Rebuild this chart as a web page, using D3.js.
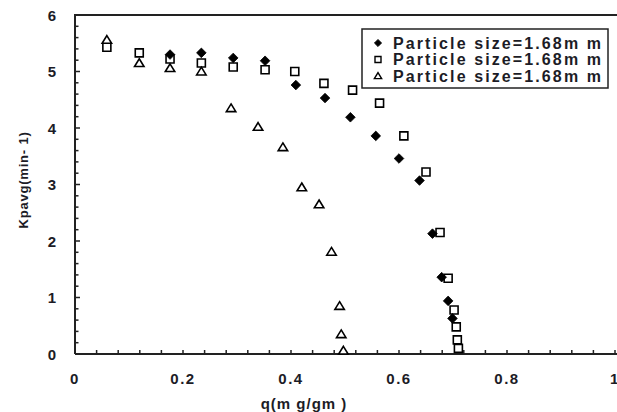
<!DOCTYPE html>
<html><head><meta charset="utf-8">
<script src="https://cdn.jsdelivr.net/npm/d3@7"></script>
<style>
html,body{margin:0;padding:0;background:#fff;overflow:hidden;}
svg{display:block;font-family:"Liberation Sans",Arial,sans-serif;}
</style></head>
<body>
<svg id="chart" width="617" height="412"></svg>
<script>
// ---- data ----
const seriesNames = ["Particle size=1.68m m","Particle size=1.68m m","Particle size=1.68m m"];
const diamondQ = [0.176,0.234,0.293,0.352,0.409,0.463,0.510,0.557,0.600,0.638,0.662,0.679,0.691,0.699];
const diamondK = [5.30,5.33,5.24,5.19,4.76,4.53,4.19,3.86,3.46,3.07,2.13,1.36,0.94,0.63];
const squareQ = [0.059,0.119,0.176,0.234,0.293,0.352,0.407,0.461,0.514,0.564,0.609,0.650,0.676,0.691,0.702,0.706,0.708,0.710];
const squareK = [5.43,5.33,5.22,5.15,5.08,5.03,5.00,4.79,4.67,4.44,3.86,3.22,2.15,1.34,0.78,0.48,0.25,0.10];
const triangleQ = [0.059,0.119,0.176,0.234,0.289,0.339,0.385,0.420,0.452,0.475,0.490,0.493,0.497];
const triangleK = [5.56,5.15,5.06,5.00,4.35,4.02,3.66,2.95,2.65,1.81,0.85,0.35,0.06];
const xTickLabels = ["0","0.2","0.4","0.6","0.8","1"];
const yTickLabels = ["0","1","2","3","4","5","6"];
const xTitle = "q(m g/gm )";
const yTitle = "Kpavg(min- 1)";

// ---- layout ----
const svg = d3.select("#chart");
const ink = "#1c1c26";
const x = d3.scaleLinear().domain([0,1]).range([75,615]);
const y = d3.scaleLinear().domain([0,6]).range([354,15]);

// frame
svg.append("path")
  .attr("d", `M${x(0)},${y(0)}L${x(0)},${y(6)}L${x(1.1)},${y(6)}M${x(0)},${y(0)}L${x(1.1)},${y(0)}`)
  .attr("fill","none").attr("stroke","#222").attr("stroke-width",2);

// x ticks (inward)
const xMinor = d3.range(0, 1.0001, 0.04);
svg.append("g").selectAll("line").data(xMinor).join("line")
  .attr("x1", d=>x(d)).attr("x2", d=>x(d))
  .attr("y1", y(0)).attr("y2", y(0)-4)
  .attr("stroke","#222").attr("stroke-width",1.5);
// y ticks
const yMinor = d3.range(0, 6.0001, 0.2);
svg.append("g").selectAll("line").data(yMinor).join("line")
  .attr("x1", x(0)).attr("x2", d=> x(0) + (Math.abs(d-Math.round(d))<1e-6 ? 5 : 3.5))
  .attr("y1", d=>y(d)).attr("y2", d=>y(d))
  .attr("stroke","#222").attr("stroke-width",1.5);

// tick labels
svg.append("g").selectAll("text").data(xTickLabels).join("text")
  .attr("x", d=>x(+d)).attr("y", 384)
  .attr("text-anchor","middle")
  .attr("font-size",15).attr("font-weight","bold").attr("fill",ink)
  .attr("letter-spacing", 1.5)
  .text(d=>d);
svg.append("g").selectAll("text").data(yTickLabels).join("text")
  .attr("x", 56).attr("y", d=>y(+d)+5.5)
  .attr("text-anchor","end")
  .attr("font-size",15).attr("font-weight","bold").attr("fill",ink)
  .text(d=>d);

// axis titles
svg.append("text").attr("x",304).attr("y",409)
  .attr("text-anchor","middle").attr("font-size",15).attr("font-weight","bold")
  .attr("fill",ink).attr("letter-spacing",1).text(xTitle);
svg.append("text").attr("transform","translate(28,180) rotate(-90)")
  .attr("text-anchor","middle").attr("font-size",13).attr("font-weight","bold")
  .attr("fill",ink).attr("letter-spacing",0.8).text(yTitle);

// marker shapes (path generators sized by r)
const shapes = {
  square: r => `M${-r},${-r}H${r}V${r}H${-r}Z`,
  diamond: r => `M0,${-r}L${r},0L0,${r}L${-r},0Z`,
  triangle: r => `M0,${-r}L${r*1.1},${r*0.8}H${-r*1.1}Z`
};

const plot = svg.append("g");
function drawSeries(qs, ks, shape, r, fill, sw){
  plot.append("g").selectAll("path").data(qs.map((q,i)=>[q,ks[i]])).join("path")
    .attr("transform", d=>`translate(${x(d[0])},${y(d[1])})`)
    .attr("d", shapes[shape](r))
    .attr("fill", fill).attr("stroke","#000").attr("stroke-width", sw)
    .attr("stroke-linejoin","miter");
}
drawSeries(squareQ, squareK, "square", 4, "#fff", 1.6);
drawSeries(triangleQ, triangleK, "triangle", 4.3, "#fff", 1.6);
drawSeries(diamondQ, diamondK, "diamond", 4.8, "#000", 0.8);

// legend
const lg = svg.append("g");
lg.append("rect").attr("x",362).attr("y",29).attr("width",246).attr("height",59)
  .attr("fill","#fff").attr("stroke","#222").attr("stroke-width",1.5);
const rowsY = [43, 59.5, 76];
const legSyms = [["diamond",3.6,"#000",0.8],["square",3,"#fff",1.4],["triangle",3.3,"#fff",1.4]];
seriesNames.forEach((name,i)=>{
  lg.append("path").attr("transform",`translate(378,${rowsY[i]})`)
    .attr("d", shapes[legSyms[i][0]](legSyms[i][1])).attr("fill", legSyms[i][2])
    .attr("stroke","#000").attr("stroke-width",legSyms[i][3]);
  lg.append("text").attr("x",393).attr("y",rowsY[i]+5.5)
    .attr("font-size",16).attr("font-weight","bold").attr("fill",ink)
    .attr("textLength",208).attr("lengthAdjust","spacing")
    .text(name);
});
</script>
</body></html>
